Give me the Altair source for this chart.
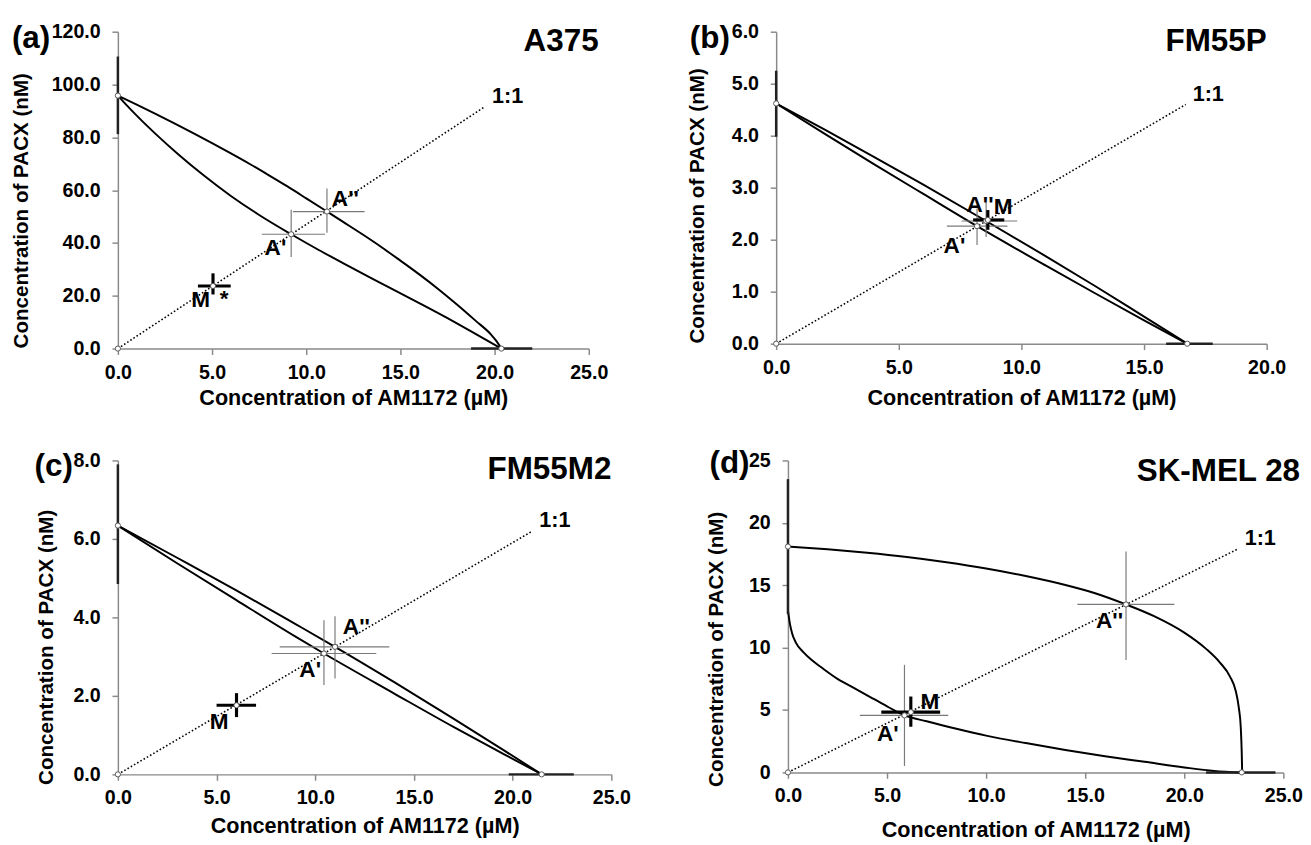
import altair as alt
import pandas as pd

FONT = "Liberation Sans"
AXC = "#8a8a8a"
THIN = "#7a7a7a"
XTITLE = "Concentration of AM1172 (µM)"
YTITLE = "Concentration of PACX (nM)"

# ---------------- (a) A375 ----------------
A_XTICKS = [0, 5, 10, 15, 20, 25]
A_YTICKS = [0, 20, 40, 60, 80, 100, 120]
A_UP_X = [0, 1, 2, 3, 4, 5, 6, 7, 8, 9, 10, 11.1, 12, 13, 14, 15, 16, 17, 18, 19, 19.8, 20.1, 20.36]
A_UP_Y = [95.8, 92.4, 88.9, 85.3, 81.6, 77.8, 73.9, 69.9, 65.7, 61.4, 56.9, 51.9, 47.8, 43.2, 38.4, 33.3, 28.1, 22.6, 16.7, 10.5, 5.4, 2.8, 0]
A_LO_X = [0, 0.5, 1, 2, 3.2, 4.5, 6, 7.5, 9.2, 10.5, 12, 13.5, 14.6, 16, 17.5, 18.66, 19.5, 20.36]
A_LO_Y = [95.8, 91.9, 88.2, 81.3, 73.6, 65.9, 57.8, 50.6, 43.3, 38.0, 32.2, 26.5, 22.4, 17.2, 11.5, 6.9, 3.5, 0]
A_Y0, A_Y0_BAR = 95.8, [81.2, 110.6]
A_X0, A_X0_BAR = 20.36, [18.75, 22.0]
A_PTS_NAME = ["A'", "A''", "M*"]
A_PTS_X = [9.2, 11.1, 5.05]
A_PTS_Y = [43.3, 51.9, 23.7]
A_XLO = [7.64, 9.29, 4.25]
A_XHI = [11.0, 13.1, 5.99]
A_YLO = [34.7, 43.9, 20.5]
A_YHI = [52.6, 60.6, 28.5]
A_LINE_END = [19.5, 91.7]

# ---------------- (b) FM55P ----------------
B_XTICKS = [0, 5, 10, 15, 20]
B_YTICKS = [0, 1, 2, 3, 4, 5, 6]
B_UP_X = [0, 2, 4, 6, 8.56, 11, 13, 15, 16.76]
B_UP_Y = [4.62, 4.11, 3.59, 3.06, 2.36, 1.68, 1.11, 0.52, 0]
B_LO_X = [0, 2, 4, 6, 8.19, 11, 13, 15, 16.76]
B_LO_Y = [4.62, 4.03, 3.45, 2.88, 2.26, 1.50, 0.97, 0.45, 0]
B_Y0, B_Y0_BAR = 4.62, [3.98, 5.25]
B_X0, B_X0_BAR = 16.76, [15.9, 17.8]
B_PTS_NAME = ["A'", "A''", "M"]
B_PTS_X = [8.19, 8.56, 8.63]
B_PTS_Y = [2.26, 2.36, 2.38]
B_XLO = [6.96, 7.56, 8.03]
B_XHI = [9.43, 9.83, 9.3]
B_YLO = [1.9, 2.05, 2.19]
B_YHI = [2.6, 2.72, 2.57]
B_LINE_END = [16.7, 4.6]

# ---------------- (c) FM55M2 ----------------
C_XTICKS = [0, 5, 10, 15, 20, 25]
C_YTICKS = [0, 2, 4, 6, 8]
C_UP_X = [0, 3, 6, 9, 11.0, 14, 17, 19.5, 21.47]
C_UP_Y = [6.34, 5.52, 4.69, 3.83, 3.25, 2.35, 1.42, 0.63, 0]
C_LO_X = [0, 3, 6, 9, 10.44, 14, 17, 19.5, 21.47]
C_LO_Y = [6.34, 5.38, 4.44, 3.51, 3.08, 2.06, 1.21, 0.53, 0]
C_Y0, C_Y0_BAR = 6.34, [4.85, 7.9]
C_X0, C_X0_BAR = 21.47, [19.8, 23.1]
C_PTS_NAME = ["A'", "A''", "M"]
C_PTS_X = [10.44, 11.0, 6.01]
C_PTS_Y = [3.08, 3.25, 1.76]
C_XLO = [7.79, 8.2, 5.0]
C_XHI = [13.09, 13.75, 7.0]
C_YLO = [2.28, 2.44, 1.46]
C_YHI = [3.93, 4.03, 2.07]
C_LINE_END = [21.0, 6.2]

# ---------------- (d) SK-MEL 28 ----------------
D_XTICKS = [0, 5, 10, 15, 20, 25]
D_YTICKS = [0, 5, 10, 15, 20, 25]
D_UP_X = [0, 2, 4, 6, 8, 10, 12, 14, 15.5, 17.06, 18.5, 20, 21.1, 21.8, 22.3, 22.6, 22.75, 22.85, 22.9, 22.92]
D_UP_Y = [18.1, 17.88, 17.6, 17.26, 16.84, 16.34, 15.74, 15.02, 14.36, 13.46, 12.5, 11.2, 9.9, 8.8, 7.7, 6.5, 5.2, 3.6, 1.5, 0]
D_LO_X = [0, 0.1, 0.2, 0.4, 0.8, 1.2, 1.7, 2.5, 3.3, 4.2, 5.0, 5.88, 7.0, 8.5, 10.0, 12.0, 14.0, 16.0, 18.0, 20.0, 21.5, 22.9]
D_LO_Y = [13.0, 11.9, 11.2, 10.4, 9.6, 9.0, 8.4, 7.5, 6.8, 6.0, 5.3, 4.57, 4.1, 3.5, 2.95, 2.35, 1.8, 1.3, 0.85, 0.4, 0.12, 0]
D_Y0, D_Y0_BAR = 18.1, [12.7, 23.5]
D_X0, D_X0_BAR = 22.9, [21.1, 24.6]
D_PTS_NAME = ["A'", "A''", "M"]
D_PTS_X = [5.88, 17.06, 6.2]
D_PTS_Y = [4.57, 13.46, 4.83]
D_XLO = [3.63, 14.6, 4.71]
D_XHI = [8.09, 19.5, 7.68]
D_YLO = [0.52, 9.0, 3.66]
D_YHI = [8.62, 17.7, 6.08]
D_LINE_END = [22.7, 17.9]

LABEL_SIZE = 23


def txt(x, y, s, dx, dy, align, size=LABEL_SIZE):
    df = pd.DataFrame({"x": [x], "y": [y], "t": [s]})
    return alt.Chart(df).mark_text(
        dx=dx, dy=dy, align=align, baseline="alphabetic", font=FONT,
        fontSize=size, fontWeight="bold", color="black"
    ).encode(x="x:Q", y="y:Q", text="t:N")


def fixed_text(s, px, py, align, size):
    return alt.Chart(pd.DataFrame({"k": [0]})).mark_text(
        text=s, align=align, baseline="alphabetic", font=FONT, fontSize=size,
        fontWeight="bold", color="black"
    ).encode(x=alt.value(px), y=alt.value(py))


def panel(P):
    W, H = P["W"], P["H"]
    xs = alt.Scale(domain=[0, P["xmax"]], nice=False, zero=False)
    ys = alt.Scale(domain=[0, P["ymax"]], nice=False, zero=False)
    common = dict(grid=False, domainColor=AXC, domainWidth=1.5, tickColor=AXC,
                  tickWidth=1.5, tickSize=6, labelFont=FONT, labelFontSize=20,
                  labelFontWeight="bold", labelColor="black", titleFont=FONT,
                  titleFontWeight="bold", titleColor="black", labelOverlap=False)
    xaxis = alt.Axis(values=P["xticks"], format=".1f", title=XTITLE, labelFlush=False,
                     labelPadding=8, titleFontSize=22, titleY=P["xty"],
                     titleBaseline="alphabetic", **common)
    yaxis = alt.Axis(values=P["yticks"], format=P["yfmt"], title=YTITLE,
                     labelPadding=12, titleFontSize=21, titleX=P["ytx"], titleY=P["yty"],
                     titleAngle=270, titleAlign="center", titleBaseline="middle", **common)

    up_x, up_y, lo_x, lo_y = P["up_x"], P["up_y"], P["lo_x"], P["lo_y"]
    curves = pd.DataFrame({
        "x": up_x + lo_x, "y": up_y + lo_y,
        "c": ["u"] * len(up_x) + ["l"] * len(lo_x),
        "i": list(range(len(up_x))) + list(range(len(lo_x))),
    })
    layers = []
    layers.append(alt.Chart(curves).mark_line(color="black", strokeWidth=2,
                                               interpolate="monotone").encode(
        x=alt.X("x:Q", scale=xs, axis=xaxis),
        y=alt.Y("y:Q", scale=ys, axis=yaxis),
        detail="c:N", order="i:Q"))

    # invisible box that fixes the panel's layout extent
    L, T, R, B = P["box"]
    layers.append(alt.Chart(pd.DataFrame({"k": [0]})).mark_rect(opacity=0).encode(
        x=alt.value(-L), x2=alt.value(W + R), y=alt.value(-T), y2=alt.value(H + B)))

    ex, ey = P["line_end"]
    one = pd.DataFrame({"x": [0, ex], "y": [0, ey]})
    layers.append(alt.Chart(one).mark_line(color="black", strokeWidth=1.6,
                                            strokeDash=[1.6, 2.2]).encode(x="x:Q", y="y:Q"))

    pts = pd.DataFrame({"n": P["names"], "x": P["px"], "y": P["py"],
                        "xlo": P["xlo"], "xhi": P["xhi"], "ylo": P["ylo"], "yhi": P["yhi"]})
    thin = pts[pts["n"].str.startswith("A")]
    thick = pts[pts["n"].str.startswith("M")]
    for d, col, sw in ((thin, THIN, 1.2), (thick, "black", 3.2)):
        layers.append(alt.Chart(d).mark_rule(color=col, strokeWidth=sw).encode(
            x="xlo:Q", x2="xhi:Q", y="y:Q"))
        layers.append(alt.Chart(d).mark_rule(color=col, strokeWidth=sw).encode(
            x="x:Q", y="ylo:Q", y2="yhi:Q"))

    ybar = pd.DataFrame({"x": [0], "ylo": [P["y0bar"][0]], "yhi": [P["y0bar"][1]]})
    xbar = pd.DataFrame({"y": [0], "xlo": [P["x0bar"][0]], "xhi": [P["x0bar"][1]]})
    layers.append(alt.Chart(ybar).mark_rule(color="#222", strokeWidth=2.5).encode(
        x="x:Q", y="ylo:Q", y2="yhi:Q"))
    layers.append(alt.Chart(xbar).mark_rule(color="#222", strokeWidth=2.5).encode(
        x="xlo:Q", x2="xhi:Q", y="y:Q"))

    mk = pd.DataFrame({"x": [0, 0, P["x0"]] + P["px"], "y": [0, P["y0"], 0] + P["py"]})
    layers.append(alt.Chart(mk).mark_point(shape="circle", filled=True, fill="white",
                                           stroke="#555", strokeWidth=1, size=28,
                                           opacity=1).encode(x="x:Q", y="y:Q"))

    for (n, x, y) in zip(P["names"], P["px"], P["py"]):
        for (s, dx, dy, al) in P["labels"][n]:
            layers.append(txt(x, y, s, dx, dy, al))
    layers.append(txt(ex, ey, "1:1", 7, -4, "left", 22))

    tx, ty = P["title_pos"]
    layers.append(fixed_text(P["title"], W + tx, ty, "right", 32))
    lx, ly = P["tag_pos"]
    layers.append(fixed_text(P["tag"], lx, ly, "left", 32))

    return alt.layer(*layers).properties(width=W, height=H)


PA = dict(W=480, H=323, xmax=25, ymax=120, xticks=A_XTICKS, yticks=A_YTICKS, yfmt=".1f",
          xty=57, ytx=-98, yty=182, up_x=A_UP_X, up_y=A_UP_Y, lo_x=A_LO_X, lo_y=A_LO_Y,
          box=(112, 16, 95, 70), line_end=A_LINE_END, names=A_PTS_NAME, px=A_PTS_X, py=A_PTS_Y,
          xlo=A_XLO, xhi=A_XHI, ylo=A_YLO, yhi=A_YHI, y0=A_Y0, y0bar=A_Y0_BAR, x0=A_X0, x0bar=A_X0_BAR,
          labels={"A'": [("A'", -5, 21, "right")], "A''": [("A''", 5, -6, "left")],
                  "M*": [("M", -3, 21, "right"), ("*", 7, 20, "left")]},
          title="A375", title_pos=(10, 20), tag="(a)", tag_pos=(-108, 17))

PB = dict(W=500, H=318, xmax=20, ymax=6, xticks=B_XTICKS, yticks=B_YTICKS, yfmt=".1f",
          xty=62, ytx=-80, yty=177, up_x=B_UP_X, up_y=B_UP_Y, lo_x=B_LO_X, lo_y=B_LO_Y,
          box=(96, 16, 20, 70), line_end=B_LINE_END, names=B_PTS_NAME, px=B_PTS_X, py=B_PTS_Y,
          xlo=B_XLO, xhi=B_XHI, ylo=B_YLO, yhi=B_YHI, y0=B_Y0, y0bar=B_Y0_BAR, x0=B_X0, x0bar=B_X0_BAR,
          labels={"A'": [("A'", -12, 27, "right")], "A''": [("A''", -20, -9, "left")],
                  "M": [("M", 6, -6, "left")]},
          title="FM55P", title_pos=(0, 20), tag="(b)", tag_pos=(-88, 17))

PC = dict(W=503, H=320, xmax=25, ymax=8, xticks=C_XTICKS, yticks=C_YTICKS, yfmt=".1f",
          xty=59, ytx=-73, yty=190, up_x=C_UP_X, up_y=C_UP_Y, lo_x=C_LO_X, lo_y=C_LO_Y,
          box=(92, 20, 90, 70), line_end=C_LINE_END, names=C_PTS_NAME, px=C_PTS_X, py=C_PTS_Y,
          xlo=C_XLO, xhi=C_XHI, ylo=C_YLO, yhi=C_YHI, y0=C_Y0, y0bar=C_Y0_BAR, x0=C_X0, x0bar=C_X0_BAR,
          labels={"A'": [("A'", -3, 24, "right")], "A''": [("A''", 8, -13, "left")],
                  "M": [("M", -8, 24, "right")]},
          title="FM55M2", title_pos=(0, 19), tag="(c)", tag_pos=(-85, 16))

PD = dict(W=505, H=318, xmax=25, ymax=25, xticks=D_XTICKS, yticks=D_YTICKS, yfmt="d",
          xty=65, ytx=-73, yty=192, up_x=D_UP_X, up_y=D_UP_Y, lo_x=D_LO_X, lo_y=D_LO_Y,
          box=(90, 20, 20, 75), line_end=D_LINE_END, names=D_PTS_NAME, px=D_PTS_X, py=D_PTS_Y,
          xlo=D_XLO, xhi=D_XHI, ylo=D_YLO, yhi=D_YHI, y0=D_Y0, y0bar=D_Y0_BAR, x0=D_X0, x0bar=D_X0_BAR,
          labels={"A'": [("A'", -6, 26, "right")], "A''": [("A''", -3, 24, "right")],
                  "M": [("M", 10, -3, "left")]},
          title="SK-MEL 28", title_pos=(17, 21), tag="(d)", tag_pos=(-80, 13))

row1 = alt.hconcat(panel(PA), panel(PB), spacing=0)
row2 = alt.hconcat(panel(PC), panel(PD), spacing=0)
chart = alt.vconcat(row1, row2, spacing=24).properties(padding=0).configure_view(
    stroke=None).configure_axis(grid=False)

chart.save("out.html", embed_options={"renderer": "svg", "actions": False})
